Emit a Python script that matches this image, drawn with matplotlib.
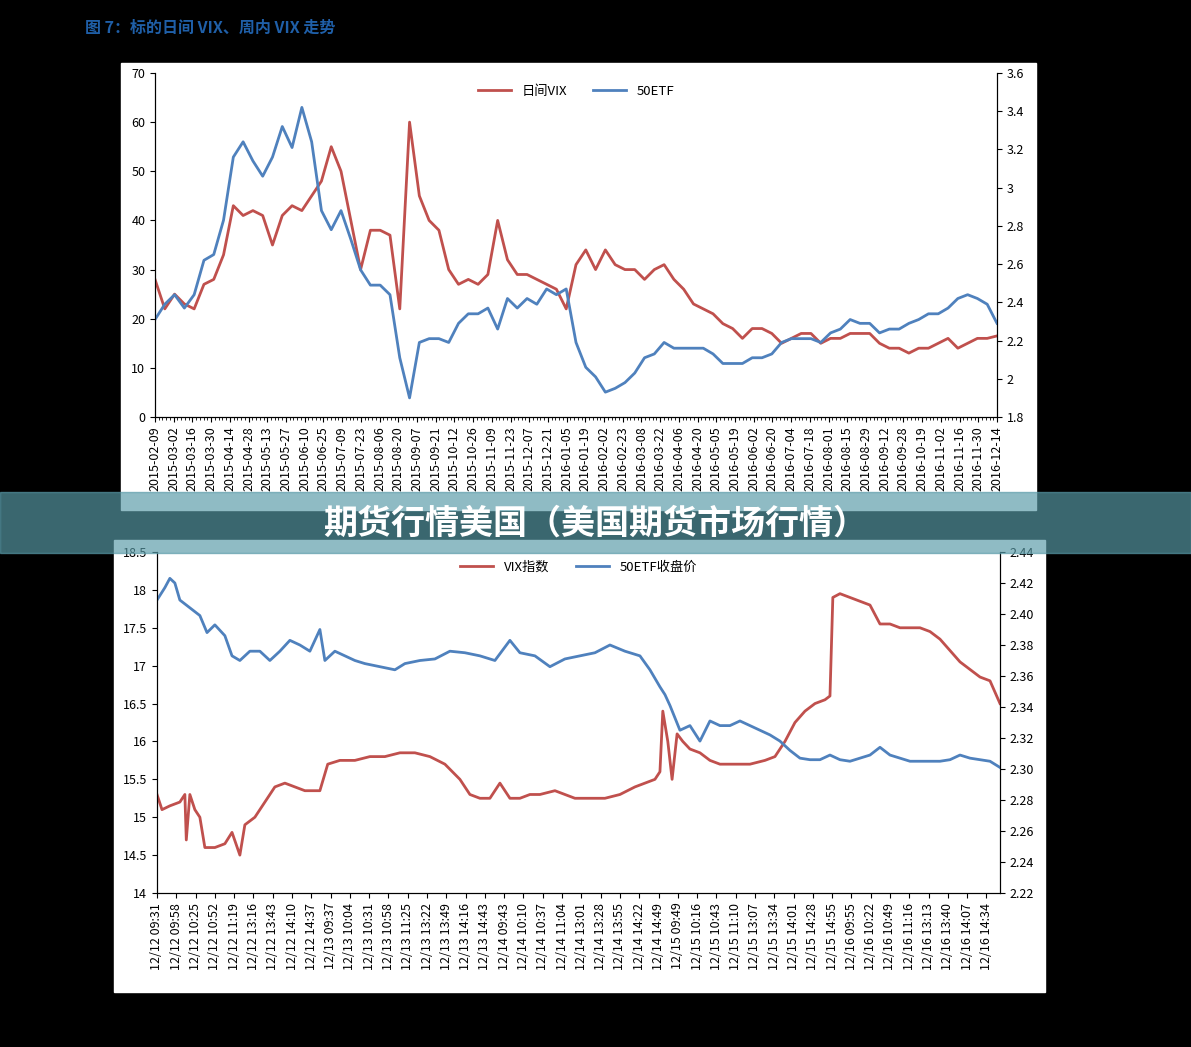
import numpy as np
import matplotlib
matplotlib.use("Agg")
import matplotlib.pyplot as plt
from matplotlib.patches import Rectangle

plt.rcParams['font.family'] = ['Noto Sans CJK SC', 'DejaVu Sans']

RED = '#c0504d'; BLUE = '#4f81bd'

top_labels = ["2015-02-09","2015-03-02","2015-03-16","2015-03-30","2015-04-14","2015-04-28","2015-05-13","2015-05-27","2015-06-10","2015-06-25","2015-07-09","2015-07-23","2015-08-06","2015-08-20","2015-09-07","2015-09-21","2015-10-12","2015-10-26","2015-11-09","2015-11-23","2015-12-07","2015-12-21","2016-01-05","2016-01-19","2016-02-02","2016-02-23","2016-03-08","2016-03-22","2016-04-06","2016-04-20","2016-05-05","2016-05-19","2016-06-02","2016-06-20","2016-07-04","2016-07-18","2016-08-01","2016-08-15","2016-08-29","2016-09-12","2016-09-28","2016-10-19","2016-11-02","2016-11-16","2016-11-30","2016-12-14"]

day_vix = [28,22,25,23,22,27,28,33,43,41,42,41,35,41,43,42,45,48,55,50,40,30,38,38,37,22,60,45,40,38,30,27,28,27,29,40,32,29,29,28,27,26,22,31,34,30,34,31,30,30,28,30,31,28,26,23,22,21,19,18,16,18,18,17,15,16,17,17,15,16,16,17,17,17,15,14,14,13,14,14,15,16,14,15,16,16,16.5]
day_etf = [2.31,2.39,2.44,2.37,2.44,2.62,2.65,2.83,3.16,3.24,3.14,3.06,3.16,3.32,3.21,3.42,3.24,2.88,2.78,2.88,2.73,2.57,2.49,2.49,2.44,2.11,1.90,2.19,2.21,2.21,2.19,2.29,2.34,2.34,2.37,2.26,2.42,2.37,2.42,2.39,2.47,2.44,2.47,2.19,2.06,2.01,1.93,1.95,1.98,2.03,2.11,2.13,2.19,2.16,2.16,2.16,2.16,2.13,2.08,2.08,2.08,2.11,2.11,2.13,2.19,2.21,2.21,2.21,2.19,2.24,2.26,2.31,2.29,2.29,2.24,2.26,2.26,2.29,2.31,2.34,2.34,2.37,2.42,2.44,2.42,2.39,2.29]

week_labels = ["12/12 09:31","12/12 09:58","12/12 10:25","12/12 10:52","12/12 11:19","12/12 13:16","12/12 13:43","12/12 14:10","12/12 14:37","12/13 09:37","12/13 10:04","12/13 10:31","12/13 10:58","12/13 11:25","12/13 13:22","12/13 13:49","12/13 14:16","12/13 14:43","12/14 09:43","12/14 10:10","12/14 10:37","12/14 11:04","12/14 13:01","12/14 13:28","12/14 13:55","12/14 14:22","12/14 14:49","12/15 09:49","12/15 10:16","12/15 10:43","12/15 11:10","12/15 13:07","12/15 13:34","12/15 14:01","12/15 14:28","12/15 14:55","12/16 09:55","12/16 10:22","12/16 10:49","12/16 11:16","12/16 13:13","12/16 13:40","12/16 14:07","12/16 14:34"]

wk_vix_t = [0,7,18,32,39,41,46,53,60,67,81,95,105,116,123,137,151,165,179,193,207,228,239,256,277,298,319,340,361,382,403,424,438,452,466,480,494,508,522,536,557,571,585,606,627,648,669,683,697,704,708,715,721,728,736,746,760,774,788,809,830,851,865,879,893,907,921,935,942,946,956,970,984,998,1012,1026,1040,1054,1068,1082,1096,1110,1124,1138,1152,1166,1180]
wk_vix_v = [15.3,15.1,15.15,15.2,15.3,14.7,15.3,15.1,15.0,14.6,14.6,14.65,14.8,14.5,14.9,15.0,15.2,15.4,15.45,15.4,15.35,15.35,15.7,15.75,15.75,15.8,15.8,15.85,15.85,15.8,15.7,15.5,15.3,15.25,15.25,15.45,15.25,15.25,15.3,15.3,15.35,15.3,15.25,15.25,15.25,15.3,15.4,15.45,15.5,15.6,16.4,16.0,15.5,16.1,16.0,15.9,15.85,15.75,15.7,15.7,15.7,15.75,15.8,16.0,16.25,16.4,16.5,16.55,16.6,17.9,17.95,17.9,17.85,17.8,17.55,17.55,17.5,17.5,17.5,17.45,17.35,17.2,17.05,16.95,16.85,16.8,16.5]

wk_etf_t = [0,11,18,25,32,46,60,70,81,95,105,116,130,144,158,172,186,200,214,228,235,249,263,277,291,312,333,347,368,389,410,431,452,473,494,508,529,550,571,592,613,634,655,676,690,704,711,718,732,746,760,774,788,802,816,830,844,858,872,886,900,914,928,942,956,970,984,998,1012,1026,1040,1054,1068,1082,1096,1110,1124,1138,1152,1166,1180]
wk_etf_v = [2.409,2.417,2.423,2.42,2.409,2.404,2.399,2.388,2.393,2.386,2.373,2.37,2.376,2.376,2.37,2.376,2.383,2.38,2.376,2.39,2.37,2.376,2.373,2.37,2.368,2.366,2.364,2.368,2.37,2.371,2.376,2.375,2.373,2.37,2.383,2.375,2.373,2.366,2.371,2.373,2.375,2.38,2.376,2.373,2.364,2.353,2.348,2.341,2.325,2.328,2.318,2.331,2.328,2.328,2.331,2.328,2.325,2.322,2.318,2.312,2.307,2.306,2.306,2.309,2.306,2.305,2.307,2.309,2.314,2.309,2.307,2.305,2.305,2.305,2.305,2.306,2.309,2.307,2.306,2.305,2.301]

fig = plt.figure(figsize=(11.91, 10.47), dpi=100, facecolor='black')
fig.patches.append(Rectangle((0.1016, 0.5129), 0.7683, 0.4269, transform=fig.transFigure, color='white', zorder=-2))
fig.patches.append(Rectangle((0.0957, 0.0525), 0.7817, 0.4317, transform=fig.transFigure, color='white', zorder=-2))

fig.text(85/1191, 1-28/1047, "图 7：标的日间 VIX、周内 VIX 走势", color='#1f5fa8', fontsize=11.5,
         fontweight='bold', va='center', ha='left')

def style(ax):
    ax.spines['top'].set_visible(False)
    for s in ['left', 'right', 'bottom']:
        ax.spines[s].set_color('black'); ax.spines[s].set_linewidth(0.8)

# top chart
ax1 = fig.add_axes([155/1191, 1-417/1047, 842/1191, 344/1047])
ax1b = ax1.twinx()
days = np.linspace(0, 450, len(day_vix))
days2 = np.linspace(0, 450, len(day_etf))
l1, = ax1.plot(days, day_vix, color=RED, lw=2, label='日间VIX')
l2, = ax1b.plot(days2, day_etf, color=BLUE, lw=2, label='50ETF')
ax1.set_xlim(0, 450); ax1.set_ylim(0, 70); ax1b.set_ylim(1.8, 3.6)
ax1.set_xticks(np.arange(0, 451, 10)); ax1.set_xticklabels(top_labels, rotation=90, fontsize=8.5)
ax1.set_xticks(np.arange(0, 451, 2), minor=True)
ax1.set_yticks(range(0, 71, 10)); ax1b.set_yticks(np.arange(1.8, 3.61, 0.2))
ax1b.set_yticklabels([f"{v:g}" for v in np.round(np.arange(1.8, 3.61, 0.2), 1)])
for a in (ax1, ax1b):
    style(a); a.tick_params(labelsize=9)
ax1.legend(handles=[l1, l2], loc='upper center', ncol=2, frameon=False, fontsize=9.5,
           bbox_to_anchor=(0.5, 1.0), handlelength=2.5)

# bottom chart
ax2 = fig.add_axes([157/1191, 1-893/1047, 843/1191, 341/1047])
ax2b = ax2.twinx()
m1, = ax2.plot(wk_vix_t, wk_vix_v, color=RED, lw=2, label='VIX指数')
m2, = ax2b.plot(wk_etf_t, wk_etf_v, color=BLUE, lw=2, label='50ETF收盘价')
ax2.set_xlim(0, 1180); ax2.set_ylim(14, 18.5); ax2b.set_ylim(2.22, 2.44)
ax2.set_xticks(np.arange(0, 44) * 27); ax2.set_xticklabels(week_labels, rotation=90, fontsize=8.5)
ax2.set_yticks(np.arange(14, 18.51, 0.5))
ax2.set_yticklabels([f"{v:g}" for v in np.arange(14, 18.51, 0.5)])
ax2b.set_yticks(np.round(np.arange(2.22, 2.4401, 0.02), 2))
ax2b.set_yticklabels([f"{v:.2f}" for v in np.round(np.arange(2.22, 2.4401, 0.02), 2)])
for a in (ax2, ax2b):
    style(a); a.tick_params(labelsize=9)
ax2.legend(handles=[m1, m2], loc='upper center', ncol=2, frameon=False, fontsize=9.5,
           bbox_to_anchor=(0.5, 1.01), handlelength=2.5)

# banner: semi-transparent teal band over everything
fig.patches.append(Rectangle((0, 1-553/1047), 1, 61/1047, transform=fig.transFigure,
                             color='#589aa7', alpha=0.67, zorder=5))
fig.text(0.5, 1-523/1047, "期货行情美国（美国期货市场行情）", color='white', fontsize=24.5,
         fontweight='bold', ha='center', va='center', zorder=7)

fig.savefig('out.png', dpi=100, facecolor='black')
